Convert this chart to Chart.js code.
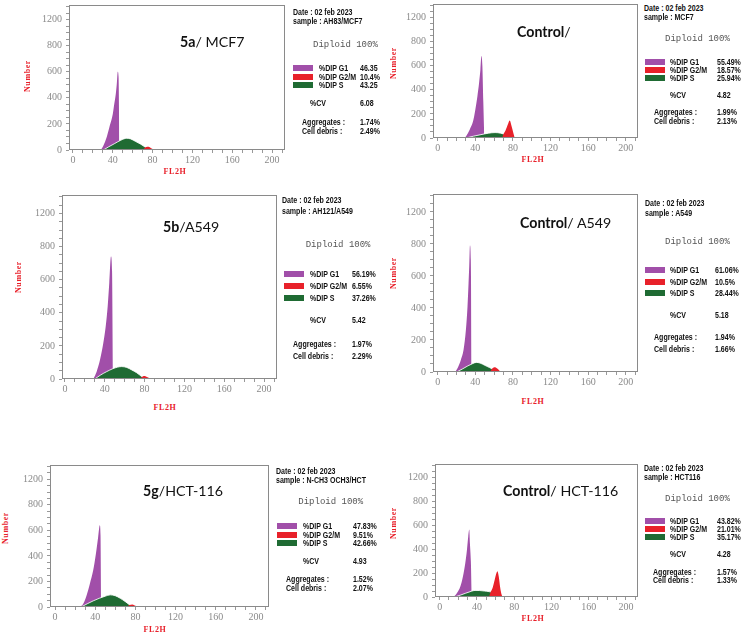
<!DOCTYPE html>
<html>
<head>
<meta charset="utf-8">
<script src="https://cdn.jsdelivr.net/npm/chart.js@4.4.1/dist/chart.umd.min.js"></script>
<style>
  html, body { margin: 0; padding: 0; background: #fff; }
  #stage { position: relative; width: 743px; height: 635px; overflow: hidden; background: #fff; }
  .plot { position: absolute; }
  .plot canvas { display: block; }
  .txt { position: absolute; white-space: nowrap; transform: translateY(-50%); line-height: 1; }
  .title { font-family: Lato, "Open Sans", sans-serif; font-size: 14.2px; color: #111; }
  .title b { font-weight: 700; }
  .axlab { font-family: "Liberation Serif", "DejaVu Serif", serif; font-weight: bold; font-size: 8px; color: #e8202a; letter-spacing: 0.6px; }
  .num { transform: translate(-50%, -50%) rotate(-90deg); }
  .fl2h { transform: translate(-50%, -50%); }
  .stat { font-family: "Liberation Sans", Arial, sans-serif; font-weight: bold; font-size: 8.8px; color: #111;
          transform: translateY(-50%) scaleX(0.8); transform-origin: left center; }
  .dip { font-family: "Liberation Mono", "DejaVu Sans Mono", monospace; font-size: 9px; color: #555; }
  .sw { position: absolute; width: 20px; height: 6px; transform: translateY(-50%); }
</style>
</head>
<body>
<div id="stage"></div>
<script>
// ── Histogram data: [FL2H channel, number of events] ─────────────────────────
// 5a / MCF7
const mcf7TreatedG1 = [[28,0],[30.5,33],[34,102],[37,187],[40,277],[41.5,354],[43,430],[44,507],[45,600],[45.8,560],[46.6,0]];
const mcf7TreatedS  = [[30.5,0],[36,25],[42,50],[48,75],[54,90],[58,85],[63,65],[68,45],[73,20],[77,0]];
const mcf7TreatedG2 = [[70,0],[73,22],[76,25],[79,12],[82,0]];
// Control / MCF7
const mcf7ControlG1 = [[28.7,0],[30.5,19],[34,69],[37.6,138],[40,235],[42.2,345],[44,456],[45.4,567],[46.5,680],[47.5,600],[48.5,300],[49.5,0]];
const mcf7ControlS  = [[30,0],[38,15],[46,28],[54,40],[61,45],[67,40],[72,28],[76,18],[80,0]];
const mcf7ControlG2 = [[68.5,0],[69.5,25],[72,60],[75,120],[76.6,145],[78.5,100],[80.5,40],[82,0]];
// 5b / A549
const a549TreatedG1 = [[28.5,0],[31.8,44],[35.2,116],[38.5,217],[40.9,318],[42.9,440],[44.5,582],[46.2,740],[47.3,650],[48.3,0]];
const a549TreatedS  = [[30,0],[36,25],[42,45],[48,62],[53,72],[57,75],[62,70],[67,55],[72,38],[77,15],[80.5,0]];
const a549TreatedG2 = [[75,0],[78,15],[80,18],[83,10],[86,0]];
// Control / A549
const a549ControlG1 = [[18.7,0],[21.2,25],[24.7,77],[27.5,139],[30,264],[31.7,409],[32.8,554],[33.5,658],[34.3,790],[35.2,700],[36,0]];
const a549ControlS  = [[20,0],[26,18],[32,38],[37,52],[41,60],[45,56],[50,42],[55,28],[58,18],[61,0]];
const a549ControlG2 = [[55.5,0],[56.5,8],[58,22],[61,30],[64,18],[67,0]];
// 5g / HCT-116
const hctTreatedG1 = [[24.8,0],[28.1,26],[31.4,91],[34.7,183],[38,287],[40.7,417],[42.9,547],[44.6,640],[45.3,560],[46,0]];
const hctTreatedS  = [[26,0],[32,25],[38,48],[44,68],[50,85],[55,95],[60,88],[65,68],[70,42],[74,18],[77,0]];
const hctTreatedG2 = [[71,0],[74,15],[77,20],[80,10],[83,0]];
// Control / HCT-116
const hctControlG1 = [[15.1,0],[18.6,33],[22.2,88],[25,172],[27.5,283],[29.3,394],[30.7,505],[31.8,565],[32.5,450],[33.5,300],[34.5,0]];
const hctControlS  = [[16,0],[22,15],[28,32],[34,48],[38,55],[43,54],[48,50],[53,45],[56,38],[59,20],[61,0]];
const hctControlG2 = [[53,0],[55,45],[57,80],[59,140],[61,200],[62,215],[63.5,170],[65,80],[66.5,20],[67.5,0]];

// ── Tick labels (the software labels the 1000 gridline "1200") ───────────────
const xTickLabels = [0, 40, 80, 120, 160, 200];
const yTickValues = [0, 200, 400, 600, 800, 1000];
const yTickLabels = ["0", "200", "400", "600", "800", "1200"];

// ── Report text ───────────────────────────────────────────────────────────────
const phaseNames = ["%DIP G1", "%DIP G2/M", "%DIP S"];
const sampleNames = ["AH83/MCF7", "MCF7", "AH121/A549", "A549", "N-CH3 OCH3/HCT", "HCT116"];
const phaseValues = [
  ["46.35", "10.4%", "43.25"],
  ["55.49%", "18.57%", "25.94%"],
  ["56.19%", "6.55%", "37.26%"],
  ["61.06%", "10.5%", "28.44%"],
  ["47.83%", "9.51%", "42.66%"],
  ["43.82%", "21.01%", "35.17%"]
];
const cvValues = ["6.08", "4.82", "5.42", "5.18", "4.93", "4.28"];
const aggregateValues = ["1.74%", "1.99%", "1.97%", "1.94%", "1.52%", "1.57%"];
const debrisValues = ["2.49%", "2.13%", "2.29%", "1.66%", "2.07%", "1.33%"];
const titleBold = ["5a", "Control", "5b", "Control", "5g", "Control"];
const titleRest = ["/ MCF7", "/", "/A549", "/ A549", "/HCT-116", "/ HCT-116"];

const PURPLE = "#a14fa9";
const RED    = "#e8212a";
const GREEN  = "#1f6b33";

// ── Layout of each panel (plot box in page pixels + text anchors) ────────────
const panels = [
  { g1: mcf7TreatedG1, s: mcf7TreatedS, g2: mcf7TreatedG2, box: [69, 5, 285, 150], xMin: -4,
    title: [180, 42], number: [28, 76], fl2h: [175, 172],
    date: [293, 12, 21], dip: [313, 45], rows: [67.7, 76.7, 85.3], cols: [293, 319, 360],
    cv: [310, 103.3], agg: [302, 121.7, 130.7] },
  { g1: mcf7ControlG1, s: mcf7ControlS, g2: mcf7ControlG2, box: [433, 4, 638, 138], xMin: -5,
    title: [517, 32], number: [394, 63], fl2h: [533, 160],
    date: [644, 8.3, 16.7], dip: [665, 39], rows: [61.7, 70, 78.3], cols: [645, 670, 716.7],
    cv: [670, 95], agg: [654, 111.7, 120.7] },
  { g1: a549TreatedG1, s: a549TreatedS, g2: a549TreatedG2, box: [62, 195, 277, 379], xMin: -3,
    title: [163, 226.7], number: [19, 276.7], fl2h: [165, 408],
    date: [281.7, 200, 210.7], dip: [305.7, 245], rows: [274, 286, 297.5], cols: [284, 310, 351.7],
    cv: [310, 320], agg: [293.3, 344, 355.7] },
  { g1: a549ControlG1, s: a549ControlS, g2: a549ControlG2, box: [433, 194, 638, 372], xMin: -5,
    title: [520, 223], number: [394, 273], fl2h: [533, 402],
    date: [645, 202.7, 213.3], dip: [665, 241.7], rows: [270, 281.7, 292.7], cols: [645, 670, 715],
    cv: [670, 315], agg: [654.3, 337.3, 349] },
  { g1: hctTreatedG1, s: hctTreatedS, g2: hctTreatedG2, box: [50, 465, 269, 607], xMin: -5,
    title: [143, 490.7], number: [6, 528], fl2h: [155, 630],
    date: [276, 471, 480], dip: [298.3, 502.3], rows: [526, 535, 543.3], cols: [276.7, 303.3, 353.3],
    cv: [303.3, 560.7], agg: [286, 579.3, 588.3] },
  { g1: hctControlG1, s: hctControlS, g2: hctControlG2, box: [435, 464, 638, 597], xMin: -5,
    title: [503, 490.7], number: [394, 523], fl2h: [533, 619],
    date: [644, 468.3, 477.3], dip: [665, 499], rows: [520.7, 529, 537.3], cols: [645, 670, 716.7],
    cv: [670, 554], agg: [653.3, 571.7, 580] }
];

const Y_AXIS_W = 40;
const X_AXIS_H = 22;
const stage = document.getElementById("stage");

// Grey frame round the plot area
const framePlugin = {
  id: "frame",
  afterDraw(chart) {
    const { ctx, chartArea: a } = chart;
    ctx.save();
    ctx.strokeStyle = "#8a8a8a";
    ctx.lineWidth = 1;
    ctx.strokeRect(a.left + 0.5, a.top + 0.5, a.right - a.left - 1, a.bottom - a.top - 1);
    ctx.restore();
  }
};

function addText(cls, x, y, html) {
  const el = document.createElement("div");
  el.className = "txt " + cls;
  el.style.left = x + "px";
  el.style.top = y + "px";
  el.innerHTML = html;
  stage.appendChild(el);
  return el;
}

const toPoints = arr => arr.map(([x, y]) => ({ x, y }));

function seriesDataset(label, pts, color, order, edge) {
  return {
    label,
    data: toPoints(pts),
    backgroundColor: color,
    borderColor: edge || color,
    borderWidth: edge ? 1 : 0,
    fill: "origin",
    pointRadius: 0,
    cubicInterpolationMode: "monotone",
    order
  };
}

function drawPanel(p, i) {
  const [l, t, r, b] = p.box;
  const wrap = document.createElement("div");
  wrap.className = "plot";
  wrap.style.left = (l - Y_AXIS_W) + "px";
  wrap.style.top = t + "px";
  wrap.style.width = (r - l + Y_AXIS_W) + "px";
  wrap.style.height = (b - t + X_AXIS_H) + "px";
  const canvas = document.createElement("canvas");
  wrap.appendChild(canvas);
  stage.appendChild(wrap);

  const tickFont = { family: "Liberation Serif", size: 10 };

  new Chart(canvas, {
    type: "line",
    data: {
      datasets: [
        seriesDataset(phaseNames[1], p.g2, RED, 1),
        seriesDataset(phaseNames[2], p.s, GREEN, 2, "rgba(255,255,255,0.85)"),
        seriesDataset(phaseNames[0], p.g1, PURPLE, 3)
      ]
    },
    options: {
      animation: false,
      responsive: true,
      maintainAspectRatio: false,
      layout: { padding: 0 },
      plugins: { legend: { display: false }, tooltip: { enabled: false } },
      scales: {
        x: {
          type: "linear", min: p.xMin, max: 213,
          border: { display: false },
          grid: { drawOnChartArea: false, drawTicks: true, tickLength: 3, color: "#999" },
          ticks: {
            stepSize: 10, includeBounds: false, autoSkip: false, maxRotation: 0, padding: 1,
            color: "#8a8a8a", font: tickFont,
            callback: v => xTickLabels.includes(v) ? String(v) : ""
          },
          afterFit: s => { s.height = X_AXIS_H; s.paddingLeft = 0; s.paddingRight = 0; }
        },
        y: {
          type: "linear", min: 0, max: 1112,
          border: { display: false },
          grid: { drawOnChartArea: false, drawTicks: true, tickLength: 3, color: "#999" },
          ticks: {
            stepSize: 50, includeBounds: false, autoSkip: false, padding: 4,
            color: "#8a8a8a", font: tickFont,
            callback: v => { const k = yTickValues.indexOf(v); return k >= 0 ? yTickLabels[k] : ""; }
          },
          afterFit: s => { s.width = Y_AXIS_W; s.paddingTop = 0; s.paddingBottom = 0; }
        }
      }
    },
    plugins: [framePlugin]
  });

  // Titles and axis names
  addText("title", p.title[0], p.title[1], `<b>${titleBold[i]}</b>${titleRest[i]}`);
  addText("axlab num", p.number[0], p.number[1], "Number");
  addText("axlab fl2h", p.fl2h[0], p.fl2h[1], "FL2H");

  // Report block
  addText("stat", p.date[0], p.date[1], "Date : 02 feb 2023");
  addText("stat", p.date[0], p.date[2], "sample : " + sampleNames[i]);
  addText("dip", p.dip[0], p.dip[1], "Diploid 100%");
  const swatchColors = [PURPLE, RED, GREEN];
  p.rows.forEach((y, k) => {
    const sw = document.createElement("div");
    sw.className = "sw";
    sw.style.left = p.cols[0] + "px";
    sw.style.top = y + "px";
    sw.style.background = swatchColors[k];
    stage.appendChild(sw);
    addText("stat", p.cols[1], y, phaseNames[k]);
    addText("stat", p.cols[2], y, phaseValues[i][k]);
  });
  addText("stat", p.cv[0], p.cv[1], "%CV");
  addText("stat", p.cols[2], p.cv[1], cvValues[i]);
  addText("stat", p.agg[0], p.agg[1], "Aggregates :");
  addText("stat", p.cols[2], p.agg[1], aggregateValues[i]);
  addText("stat", p.agg[0], p.agg[2], "Cell debris :");
  addText("stat", p.cols[2], p.agg[2], debrisValues[i]);
}

panels.forEach(drawPanel);
</script>
</body>
</html>
